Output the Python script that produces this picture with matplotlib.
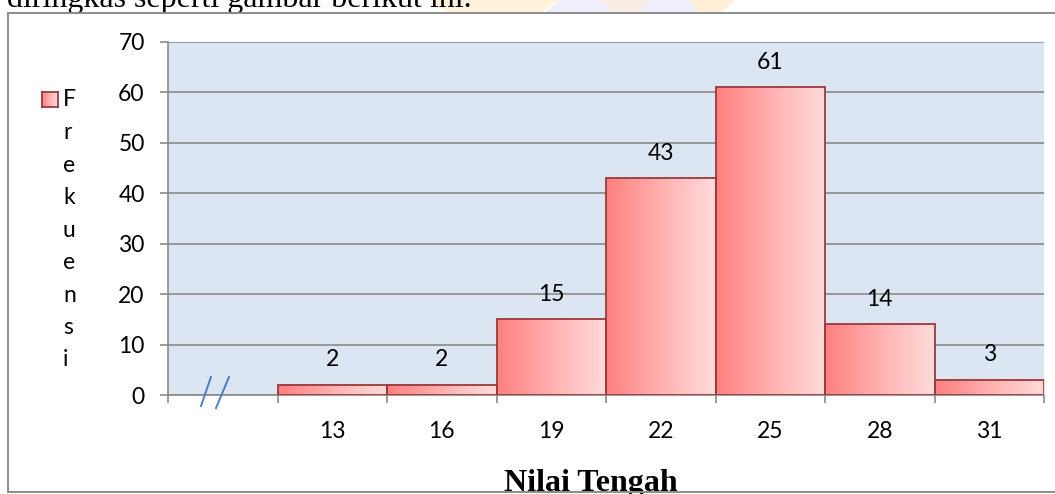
import numpy as np
import matplotlib
matplotlib.use("Agg")
import matplotlib.pyplot as plt
from matplotlib.colors import LinearSegmentedColormap
from matplotlib.lines import Line2D
from matplotlib.patches import Polygon

# Data: class midpoints (first slot left blank for the axis break) and frequencies
categories = ["", "13", "16", "19", "22", "25", "28", "31"]
frekuensi = [None, 2, 2, 15, 43, 61, 14, 3]
y_ticks = [0, 10, 20, 30, 40, 50, 60, 70]
series_name = "Frekuensi"
x_title = "Nilai Tengah"
caption = "diringkas seperti gambar berikut ini."

W, H = 1055, 494
fig = plt.figure(figsize=(W / 100, H / 100), dpi=100)
fig.patch.set_facecolor("white")

def fx(px):
    return px / W

def fy(py):
    return 1 - py / H

grid_col = "#8a8a8a"
edge_col = "#9a3a3a"
bar_cmap = LinearSegmentedColormap.from_list(
    "bar", [(1.0, 0.50, 0.50), (1.0, 0.69, 0.69), (1.0, 0.86, 0.86)])
gradient = np.linspace(0, 1, 256).reshape(1, -1)
num_font = "Lato"
num_size = 16.5

# faint watermark behind the caption line
wm = fig.add_axes([0, 0, 1, 1], zorder=-5)
wm.set_xlim(0, W)
wm.set_ylim(H, 0)
wm.axis("off")
for pts, col in [
    ([(430, 0), (560, 0), (540, 13), (450, 13)], (1.0, 0.90, 0.74)),
    ([(560, 0), (690, 0), (700, 13), (545, 13)], (0.88, 0.88, 0.98)),
    ([(690, 0), (735, 0), (720, 13), (700, 13)], (1.0, 0.88, 0.70)),
    ([(600, 0), (650, 0), (640, 13), (615, 13)], (1.0, 0.93, 0.82)),
]:
    wm.add_patch(Polygon(pts, closed=True, facecolor=col, edgecolor="none", alpha=0.55))

fig.text(fx(7), fy(7), caption, family="Liberation Serif", fontsize=23,
         ha="left", va="baseline", color="black")

# plot area
ax = fig.add_axes([fx(168), fy(395), fx(1044) - fx(168), (395 - 42) / H])
ax.set_facecolor("#dce6f2")

x = np.arange(len(categories))
bx = [xi for xi, v in zip(x, frekuensi) if v is not None]
bv = [v for v in frekuensi if v is not None]
bars = ax.bar(bx, bv, width=1.0, facecolor="none", edgecolor=edge_col,
              linewidth=1.3, zorder=4)
for rect, v in zip(bars, bv):
    x0, w, h = rect.get_x(), rect.get_width(), rect.get_height()
    ax.imshow(gradient, extent=[x0, x0 + w, 0, h], aspect="auto",
              cmap=bar_cmap, zorder=3, interpolation="bilinear")
    ax.annotate(str(v), (x0 + w / 2, h), xytext=(0, 18), textcoords="offset points",
                ha="center", va="center", fontsize=num_size, family=num_font, color="black")

ax.set_xlim(-0.5, len(categories) - 0.5)
ax.set_ylim(0, 70)
ax.set_yticks(y_ticks)
ax.set_yticklabels([str(t) for t in y_ticks], fontsize=num_size, family=num_font)
ax.yaxis.grid(True, color=grid_col, linewidth=1.2)
ax.set_axisbelow(True)

ax.set_xticks(np.arange(-0.5, len(categories)), labels=[])
ax.set_xticks(x, labels=categories, minor=True)
for lab in ax.get_xticklabels(minor=True):
    lab.set_fontsize(num_size)
    lab.set_family(num_font)
ax.tick_params(axis="x", which="major", direction="out", length=5.8, width=1.2,
               color=grid_col)
ax.tick_params(axis="x", which="minor", length=0, pad=19)
ax.tick_params(axis="y", direction="out", length=5.8, width=1.2, color=grid_col, pad=11)

for s in ["top", "right"]:
    ax.spines[s].set_visible(False)
for s in ["left", "bottom"]:
    ax.spines[s].set_color(grid_col)
    ax.spines[s].set_linewidth(1.2)

# axis break marks in the blank first slot
for (xa, ya), (xb, yb) in [((0.049, 0.051), (0.0377, -0.031)),
                           ((0.0696, 0.051), (0.0548, -0.037))]:
    ax.plot([xa, xb], [ya, yb], transform=ax.transAxes, color="#4a7cc8",
            linewidth=1.4, clip_on=False, zorder=6)

# legend: gradient swatch with vertical series name
sw = fig.add_axes([fx(42), fy(107), fx(58) - fx(42), 15 / H])
sw.imshow(gradient, aspect="auto", cmap=bar_cmap, extent=[0, 1, 0, 1])
sw.set_xticks([])
sw.set_yticks([])
for s in sw.spines.values():
    s.set_color(edge_col)
    s.set_linewidth(1.3)
for i, ch in enumerate(series_name):
    fig.text(fx(63), fy(100 + 32.5 * i), ch, fontsize=num_size, family=num_font,
             ha="left", va="center", color="black")

fig.text(fx(591), fy(491), x_title, family="Liberation Serif", fontweight="bold",
         fontsize=23, ha="center", va="baseline", color="black")

# chart frame
frame_kw = dict(color="#8c8c8c", linewidth=1.4, transform=fig.transFigure, zorder=10)
fig.add_artist(Line2D([fx(8), 1.0], [fy(13), fy(13)], **frame_kw))
fig.add_artist(Line2D([fx(8), 1.0], [fy(492), fy(492)], **frame_kw))
fig.add_artist(Line2D([fx(8), fx(8)], [fy(13), fy(492)], **frame_kw))

fig.savefig("out.png", dpi=100)
